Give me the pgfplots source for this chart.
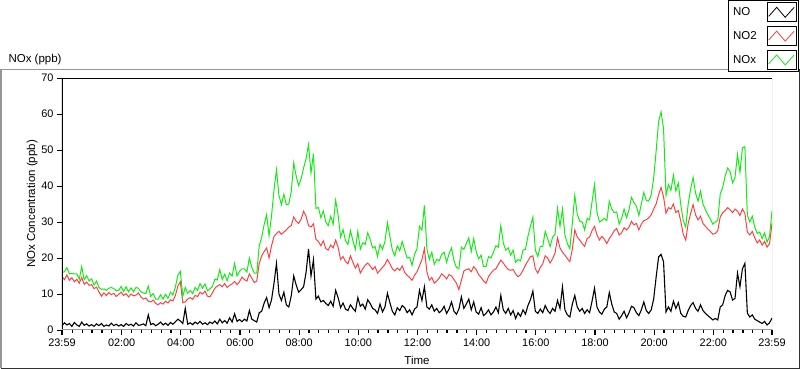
\documentclass[border=0pt]{standalone}
\usepackage{pgfplots}
\usepackage{pgfplotstable}
\pgfplotsset{compat=1.18}
\usepackage{fontspec}
\setmainfont{Liberation Sans}
\definecolor{nored}{RGB}{255,64,64}
\definecolor{nogreen}{RGB}{20,235,20}
\definecolor{framegray}{RGB}{150,150,150}
\definecolor{framedark}{RGB}{50,50,50}
\pgfplotstableread{
t no no2 nox
0 1.2 14.8 16.0
5 2.0 14.0 16.2
10 1.4 15.3 17.3
15 1.8 13.8 15.6
20 1.0 14.5 15.7
25 2.1 13.4 15.6
30 1.4 14.1 15.6
35 1.0 13.0 14.1
40 2.2 14.6 17.6
45 1.3 12.7 14.0
50 1.7 13.3 15.1
55 1.1 12.4 13.6
60 1.5 12.6 14.2
65 1.0 11.5 12.5
70 1.7 11.9 13.6
75 1.2 10.6 11.8
80 1.8 9.4 11.3
85 1.0 10.3 11.4
90 1.4 9.6 11.0
95 1.1 10.4 11.6
100 1.9 9.8 11.8
105 1.2 10.2 11.5
110 1.6 9.3 10.9
115 1.1 9.9 11.0
120 1.5 10.5 12.1
125 1.0 9.6 10.7
130 1.8 10.1 12.0
135 1.3 9.2 10.6
140 1.6 10.0 11.7
145 1.1 9.5 10.6
150 2.0 9.7 11.8
155 1.3 10.3 11.6
160 1.4 9.2 10.6
165 1.7 8.6 10.3
170 1.2 8.9 10.1
175 4.2 8.0 12.2
180 1.5 7.8 9.3
185 1.8 8.3 10.1
190 1.2 7.4 8.6
195 1.6 7.0 8.6
200 2.2 7.6 9.8
205 1.4 7.2 8.6
210 1.9 8.0 9.9
215 1.3 7.5 8.8
220 2.1 8.4 10.5
225 1.6 8.1 9.7
230 2.3 9.6 11.9
235 3.0 12.2 15.2
240 2.5 13.4 16.3
245 1.8 7.6 9.4
250 6.0 7.8 11.8
255 1.6 8.6 10.2
260 2.0 9.0 11.0
265 1.5 8.5 10.1
270 2.2 9.6 11.8
275 1.7 9.3 11.0
280 2.4 10.5 12.9
285 1.6 10.0 11.6
290 2.0 10.8 12.8
295 1.5 9.4 10.9
300 2.2 9.2 11.4
305 1.8 10.3 12.1
310 2.5 11.6 14.1
315 1.7 12.2 13.9
320 3.0 12.6 16.8
325 2.0 12.0 14.0
330 2.6 12.9 15.5
335 1.9 11.8 13.7
340 3.4 12.4 15.8
345 2.2 12.8 15.0
350 4.5 13.5 18.5
355 2.4 12.6 15.0
360 2.9 13.4 16.3
365 2.3 14.7 17.0
370 3.0 14.0 17.0
375 2.5 13.6 16.1
380 5.4 15.6 20.0
385 3.0 14.4 17.4
390 2.6 13.2 15.8
395 2.2 13.6 15.8
400 4.8 18.5 23.3
405 5.2 20.6 25.8
410 7.5 21.8 29.3
415 9.0 22.8 32.0
420 6.2 20.0 26.2
425 8.4 23.4 31.8
430 13.0 26.0 39.0
435 18.5 26.8 44.5
440 10.0 27.4 37.4
445 8.2 26.6 34.8
450 10.5 27.2 37.7
455 7.0 27.8 34.8
460 6.4 28.6 35.0
465 9.5 29.0 38.5
470 15.0 31.4 46.4
475 12.5 30.2 42.7
480 10.5 29.6 40.1
485 11.2 30.8 42.0
490 12.0 33.0 45.0
495 16.0 31.6 47.6
500 22.5 29.0 51.5
505 15.0 28.6 43.6
510 19.5 29.5 49.0
515 8.6 25.2 33.8
520 9.4 24.6 34.0
525 7.8 23.4 31.2
530 8.2 24.8 33.0
535 7.4 22.6 30.0
540 6.8 22.2 29.0
545 8.0 23.6 31.6
550 6.6 22.8 29.4
555 11.0 25.0 36.0
560 9.0 23.0 32.0
565 6.2 19.6 25.8
570 7.5 20.4 27.9
575 5.8 19.0 24.8
580 5.4 18.4 23.8
585 7.0 20.6 27.6
590 6.0 18.8 24.8
595 5.2 17.2 22.4
600 9.0 18.4 27.4
605 6.6 15.8 22.4
610 7.2 17.0 24.2
615 5.8 18.0 23.8
620 8.4 18.6 27.0
625 7.4 17.8 25.2
630 6.0 16.8 22.8
635 5.6 17.6 23.2
640 4.6 15.8 20.4
645 7.2 16.6 23.8
650 5.0 17.4 22.4
655 6.4 18.2 24.6
660 10.2 19.6 29.8
665 7.6 18.4 26.0
670 5.2 17.0 22.2
675 4.2 16.4 20.6
680 6.2 17.2 23.4
685 5.4 16.6 22.0
690 6.8 17.8 24.6
695 6.2 16.0 22.2
700 4.8 15.2 20.0
705 5.6 14.6 20.2
710 4.2 13.8 18.0
715 5.8 15.2 21.0
720 6.4 16.2 22.6
725 11.0 17.8 28.8
730 8.2 19.6 27.8
735 12.0 22.6 34.6
740 6.4 16.2 22.6
745 5.8 13.8 19.6
750 7.0 14.6 21.6
755 5.2 13.0 18.2
760 6.0 13.6 19.6
765 4.8 14.4 19.2
770 5.4 15.6 21.0
775 6.6 15.0 21.6
780 4.6 14.2 18.8
785 5.8 15.4 21.2
790 7.8 15.0 22.8
795 5.2 14.0 19.2
800 4.4 13.0 17.4
805 5.8 11.2 17.0
810 9.2 13.8 23.0
815 6.0 16.4 22.4
820 7.2 16.8 24.0
825 8.6 17.0 25.6
830 5.6 16.2 21.8
835 7.8 17.6 25.4
840 5.0 16.8 21.8
845 4.4 15.4 19.8
850 6.2 14.6 20.8
855 4.0 13.6 17.6
860 4.6 13.0 17.6
865 5.6 14.8 20.4
870 4.2 15.8 20.0
875 5.0 16.6 21.6
880 6.4 17.0 23.4
885 4.8 18.2 23.0
890 9.6 19.4 29.0
895 5.6 18.6 24.2
900 4.6 17.6 22.2
905 6.0 16.8 22.8
910 4.2 16.6 20.8
915 5.4 16.8 22.2
920 3.2 15.6 18.8
925 4.8 14.8 19.6
930 3.8 15.4 19.2
935 5.6 16.6 22.2
940 4.4 18.0 22.4
945 6.8 19.2 26.0
950 8.4 20.4 28.8
955 10.8 20.6 31.4
960 5.2 17.0 22.2
965 4.6 15.8 20.4
970 5.8 17.4 23.2
975 4.8 18.4 23.2
980 6.8 20.6 27.4
985 5.4 20.0 25.4
990 4.6 18.6 23.2
995 6.0 19.8 25.8
1000 5.2 21.4 26.6
1005 8.2 25.6 33.8
1010 6.0 22.8 28.8
1015 12.0 21.6 33.6
1020 5.6 20.8 26.4
1025 4.2 19.8 24.0
1030 3.6 19.0 22.6
1035 7.2 22.4 29.6
1040 9.6 27.8 37.4
1045 6.4 25.8 32.2
1050 5.2 25.0 30.2
1055 6.0 24.0 30.0
1060 4.6 23.2 27.8
1065 5.6 25.4 31.0
1070 4.8 25.8 30.6
1075 8.0 27.6 35.6
1080 11.6 28.8 40.4
1085 6.4 26.4 32.8
1090 5.0 25.0 30.0
1095 4.4 26.0 30.4
1100 5.8 25.2 31.0
1105 6.4 24.0 30.4
1110 10.4 25.4 35.8
1115 7.2 26.4 33.6
1120 5.0 27.6 32.6
1125 4.6 28.2 32.8
1130 3.0 26.4 29.4
1135 4.0 27.0 31.0
1140 5.2 28.4 33.6
1145 3.4 27.8 31.2
1150 4.8 28.6 33.4
1155 6.6 30.2 36.8
1160 6.2 29.2 35.4
1165 4.8 29.6 34.4
1170 4.0 27.8 31.8
1175 5.6 29.4 35.0
1180 7.8 30.4 38.2
1185 5.4 30.6 36.0
1190 4.6 31.2 35.8
1195 5.6 32.0 37.6
1200 8.6 33.6 42.2
1205 14.7 35.0 49.7
1210 20.3 37.6 57.9
1215 21.0 39.6 60.6
1220 19.0 37.0 56.0
1225 5.0 32.4 37.4
1230 6.4 34.0 40.4
1235 5.2 33.6 38.8
1240 8.0 35.0 43.0
1245 6.0 32.6 38.6
1250 7.6 33.2 40.8
1255 4.6 30.2 34.8
1260 3.8 26.6 30.4
1265 3.6 25.0 28.6
1270 5.4 29.6 35.0
1275 6.8 32.4 39.2
1280 7.6 34.8 42.4
1285 6.0 32.0 38.0
1290 5.2 30.6 35.8
1295 7.0 31.6 38.6
1300 5.4 29.6 35.0
1305 4.6 28.8 33.4
1310 4.0 28.0 32.0
1315 3.4 27.4 30.8
1320 2.8 26.6 29.4
1325 3.2 26.8 30.0
1330 2.8 27.6 30.4
1335 6.4 31.4 37.8
1340 7.0 32.6 39.6
1345 9.6 33.2 42.8
1350 11.0 34.0 45.0
1355 10.6 33.4 44.0
1360 8.3 32.6 40.9
1365 8.8 33.6 42.4
1370 15.8 33.0 48.8
1375 12.0 31.8 43.8
1380 17.0 33.6 50.6
1385 18.5 32.4 50.9
1390 4.7 27.2 31.9
1395 3.6 26.4 30.0
1400 4.2 27.4 31.6
1405 3.0 25.6 28.6
1410 2.6 24.2 26.8
1415 2.2 25.0 27.2
1420 1.8 23.6 25.4
1425 2.4 24.6 27.0
1430 1.4 23.0 24.4
1435 2.0 24.0 26.0
1440 3.3 29.6 33.0
}\datatable
\begin{document}
\begin{tikzpicture}
\path[use as bounding box] (-62pt,-39pt) rectangle (738pt,330pt);
\draw[framegray, line width=1.5pt] (-61.2pt,-38.5pt) -- (-61.2pt,260.5pt) -- (737.5pt,260.5pt);
\draw[framedark, line width=1pt] (-61pt,-38.5pt) -- (737.5pt,-38.5pt) -- (737.5pt,260.5pt);
\node[anchor=base west, font=\fontsize{11.5}{13}\selectfont] at (-57pt,267pt) {NOx (ppb)};
\begin{axis}[
  at={(0pt,0pt)}, anchor=south west,
  scale only axis, width=710pt, height=252pt,
  xmin=0, xmax=1440, ymin=0, ymax=70,
  axis line style={draw=none},
  tick pos=left, tick align=outside,
  xtick={0,121,241,361,481,601,721,841,961,1081,1201,1321,1440},
  xticklabels={23:59,02:00,04:00,06:00,08:00,10:00,12:00,14:00,16:00,18:00,20:00,22:00,23:59},
  minor xtick={21,41,...,1421},
  ytick={0,10,...,70},
  major tick length=5pt, minor tick length=3pt,
  xtick style={black, line width=1.2pt},
  ytick style={black, line width=0.8pt},
  every minor tick/.append style={line width=0.8pt},
  ticklabel style={font=\fontsize{10.9}{12}\selectfont, black},
  /pgf/number format/assume math mode=true,
  xlabel={Time}, ylabel={NOx Concentration (ppb)},
  label style={font=\fontsize{11.5}{13}\selectfont},
  xlabel style={at={(axis description cs:0.5,-0.119)}, anchor=center},
  ylabel style={at={(axis description cs:-0.042,0.5)}, anchor=center},
  legend plot pos=right,
  legend cell align=left,
  legend style={at={(1.038,1.3095)}, anchor=north east, draw=black, fill=white,
    line width=0.8pt, font=\fontsize{11.5}{13}\selectfont,
    inner xsep=2pt, inner ysep=2pt, row sep=4pt, column sep=7pt,
    nodes={inner xsep=3pt, inner ysep=0pt}},
  legend image code/.code={
    \draw[black, solid, fill=white, line width=0.8pt] (0pt,-9.5pt) rectangle (29pt,9.5pt);
    \draw[#1, solid, line width=0.8pt] (1.5pt,-4pt) -- (9.5pt,5pt) -- (18pt,-5pt) -- (27pt,5pt);
  },
]
\addplot[black, line width=1.1pt] table[x=t, y=no] {\datatable};
\addlegendentry{NO}
\addplot[nored, line width=1pt] table[x=t, y=no2] {\datatable};
\addlegendentry{NO2}
\addplot[nogreen, line width=1pt] table[x=t, y=nox] {\datatable};
\addlegendentry{NOx}
\draw[black, line width=1.2pt] (rel axis cs:0,0) -- (rel axis cs:0,1) -- (rel axis cs:1,1);
\draw[framegray, line width=1pt] (rel axis cs:0,0) -- (rel axis cs:1,0) -- (rel axis cs:1,1);
\end{axis}
\end{tikzpicture}
\end{document}
